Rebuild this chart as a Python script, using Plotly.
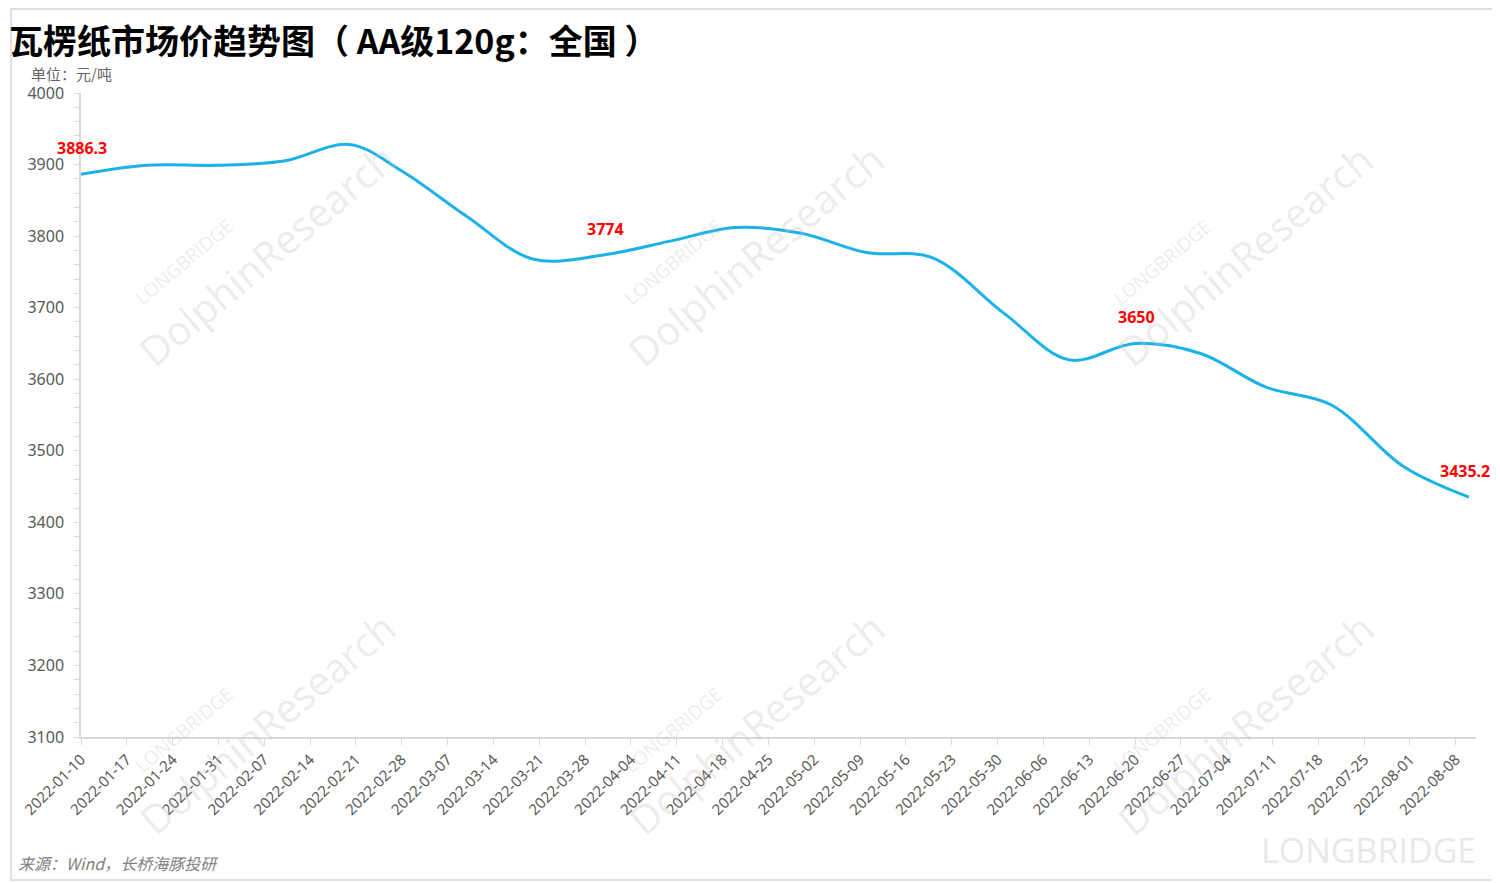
import plotly.graph_objects as go

# ---- data (ten-day price series, 元/吨) ----
dates = ["2022-01-10", "2022-01-20", "2022-01-31", "2022-02-10", "2022-02-20",
         "2022-02-28", "2022-03-10", "2022-03-20", "2022-03-31", "2022-04-10",
         "2022-04-20", "2022-04-30", "2022-05-10", "2022-05-20", "2022-05-31",
         "2022-06-10", "2022-06-20", "2022-06-30", "2022-07-10", "2022-07-20",
         "2022-07-31", "2022-08-10"]
prices = [3886.3, 3899, 3899, 3905, 3928,
          3891, 3827, 3768, 3774, 3793,
          3812, 3804, 3777, 3770, 3692,
          3627, 3650, 3636, 3589, 3564,
          3478, 3435.2]
labelled_idx = [0, 8, 16, 21]
label_texts = ["3886.3", "3774", "3650", "3435.2"]

tick_dates = ["2022-01-10", "2022-01-17", "2022-01-24", "2022-01-31", "2022-02-07",
              "2022-02-14", "2022-02-21", "2022-02-28", "2022-03-07", "2022-03-14",
              "2022-03-21", "2022-03-28", "2022-04-04", "2022-04-11", "2022-04-18",
              "2022-04-25", "2022-05-02", "2022-05-09", "2022-05-16", "2022-05-23",
              "2022-05-30", "2022-06-06", "2022-06-13", "2022-06-20", "2022-06-27",
              "2022-07-04", "2022-07-11", "2022-07-18", "2022-07-25", "2022-08-01",
              "2022-08-08"]
y_ticks = [3100, 3200, 3300, 3400, 3500, 3600, 3700, 3800, 3900, 4000]

title = "瓦楞纸市场价趋势图（ AA级120g：全国 ）"
unit = "单位：元/吨"
source = "来源：Wind，长桥海豚投研"

# page-pixel geometry of the plot area (the page body adds an 8px offset)
OFF = 8
L, R, T, B = 79, 1476, 93, 737
W, H = 1500 - OFF, 883 - OFF


def px(x):
    return (x - L) / (R - L)


def py(y):
    return (B - y) / (B - T)


fig = go.Figure()
fig.add_trace(go.Scatter(
    x=dates, y=prices, mode="lines",
    line=dict(color="#1BB1E9", width=3, shape="spline", smoothing=1),
    hoverinfo="x+y", showlegend=False,
))

wm = "rgba(195,195,195,0.33)"
annotations = []
# watermarks
for ox, oy in [(0, 0), (490, 0), (980, 0), (0, 468), (490, 468), (980, 468)]:
    annotations.append(dict(
        x=px(265 + ox), y=py(255 + oy), xref="paper", yref="paper",
        xanchor="center", yanchor="middle",
        text="DolphinResearch", showarrow=False, textangle=-40,
        font=dict(family="Open Sans", size=40, color=wm),
    ))
    annotations.append(dict(
        x=px(182 + ox), y=py(262 + oy), xref="paper", yref="paper",
        xanchor="center", yanchor="middle",
        text="LONGBRIDGE", showarrow=False, textangle=-40,
        font=dict(family="Open Sans", size=19, color=wm),
    ))
annotations.append(dict(
    x=px(1478), y=py(850), xref="paper", yref="paper", xanchor="right", yanchor="middle",
    text="LONGBRIDGE", showarrow=False,
    font=dict(family="Open Sans", size=34, color="rgba(195,195,195,0.4)"),
))

# value labels
for i, t in zip(labelled_idx, label_texts):
    annotations.append(dict(
        x=dates[i], y=prices[i], xref="x", yref="y", text=f"<b>{t}</b>",
        showarrow=False, yshift=26, xshift=(-4 if i == len(dates) - 1 else 1),
        font=dict(family="Noto Sans", size=16, color="#FF0000"),
    ))

annotations += [
    dict(x=px(5), y=py(40), xref="paper", yref="paper", xanchor="left", yanchor="middle",
         text=f"<b>{title}</b>", showarrow=False,
         font=dict(family="Noto Sans CJK SC", size=34, color="#000000")),
    dict(x=px(27), y=py(73), xref="paper", yref="paper", xanchor="left", yanchor="middle",
         text=unit, showarrow=False,
         font=dict(family="Noto Sans CJK SC", size=15, color="#666666")),
    dict(x=px(14), y=py(863), xref="paper", yref="paper", xanchor="left", yanchor="middle",
         text=f"<i>{source}</i>", showarrow=False,
         font=dict(family="Noto Sans CJK SC", size=16, color="#808080")),
]

fig.update_layout(
    width=W, height=H,
    margin=dict(l=L - OFF, r=1500 - R, t=T - OFF, b=883 - B, pad=0),
    paper_bgcolor="white", plot_bgcolor="white",
    annotations=annotations,
    shapes=[dict(type="rect", xref="paper", yref="paper",
                 x0=px(9), x1=px(1497), y0=py(880), y1=py(9),
                 line=dict(color="#e0e0e0", width=2), layer="below")],
    xaxis=dict(
        type="date", range=["2022-01-10", "2022-08-11 02:00"],
        tickmode="array", tickvals=tick_dates, ticktext=tick_dates,
        tickangle=-45, showgrid=False, zeroline=False,
        showline=True, linecolor="#d9d9d9", linewidth=1.5,
        ticks="outside", ticklen=6, tickcolor="#d9d9d9",
        tickfont=dict(family="Noto Sans", size=15, color="#595959"),
    ),
    yaxis=dict(
        range=[3100, 4000], tickmode="array", tickvals=y_ticks,
        ticktext=[str(v) for v in y_ticks],
        showgrid=False, zeroline=False,
        showline=True, linecolor="#d9d9d9", linewidth=1.5,
        ticks="outside", ticklen=5, tickcolor="#d9d9d9",
        minor=dict(dtick=20, tick0=3100, ticks="outside", ticklen=5, tickcolor="#d9d9d9"),
        ticklabelstandoff=7,
        tickfont=dict(family="Noto Sans", size=16, color="#595959"),
    ),
)

fig.write_html("out.html")
